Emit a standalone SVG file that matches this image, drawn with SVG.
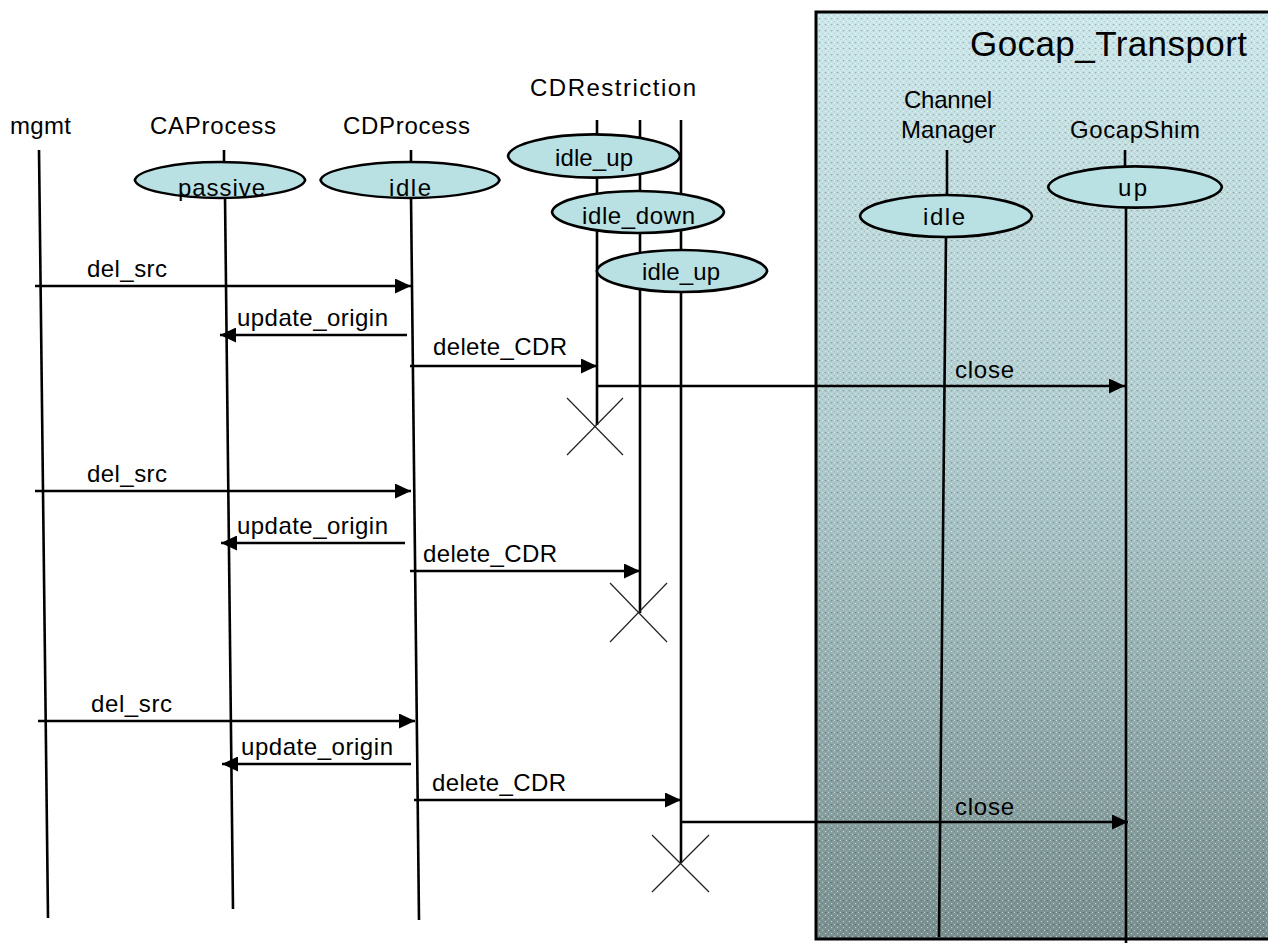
<svg xmlns="http://www.w3.org/2000/svg" xmlns:xlink="http://www.w3.org/1999/xlink" width="1268" height="943" viewBox="0 0 1268 943">
  <style>
    text { font-family: "Liberation Sans", Arial, sans-serif; font-size: 24px; fill: #000; }
    .title { font-size: 35px; }
    .life { stroke: #000; stroke-width: 2.6; fill: none; }
    .msg { stroke: #000; stroke-width: 2.6; fill: none; marker-end: url(#arrow); }
    .kill { stroke: #222; stroke-width: 1.2; }
    .state { fill: #b9e0e3; stroke: #000; stroke-width: 2.6; }
  </style>
  <defs>
    <marker id="arrow" markerUnits="userSpaceOnUse" markerWidth="17" markerHeight="15" refX="16" refY="7.5" orient="auto">
      <path d="M0,0 L16,7.5 L0,15 Z" fill="#000"/>
    </marker>
    <!-- lens-shaped state bubble centred on 0,0 -->
    <path id="lens" d="M-86,0 C-84,-11 -46,-20 0,-20 C46,-20 84,-11 86,0 C84,11 46,20 0,20 C-46,20 -84,11 -86,0 Z"/>
    <linearGradient id="boxFill" x1="0" y1="0" x2="0" y2="1">
      <stop offset="0" stop-color="#cde8ea"/>
      <stop offset="0.45" stop-color="#b1cdd0"/>
      <stop offset="1" stop-color="#7b9191"/>
    </linearGradient>
    <pattern id="dots" patternUnits="userSpaceOnUse" width="6" height="6">
      <rect x="0" y="0" width="1" height="1" fill="#fff" fill-opacity="0.55"/>
      <rect x="3" y="3" width="1" height="1" fill="#fff" fill-opacity="0.55"/>
      <rect x="2" y="0" width="3" height="1" fill="#000" fill-opacity="0.1"/>
      <rect x="3" y="-1" width="1" height="3" fill="#000" fill-opacity="0.1"/>
      <rect x="0" y="3" width="1" height="1" fill="#000" fill-opacity="0.12"/>
    </pattern>
  </defs>

  <rect width="1268" height="943" fill="#fff"/>

  <!-- transport package frame -->
  <g id="gocap-transport">
    <rect x="816" y="12" width="470" height="927" fill="url(#boxFill)"/>
    <rect x="816" y="12" width="470" height="927" fill="url(#dots)" stroke="#000" stroke-width="3"/>
    <text class="title" x="970" y="56" textLength="277">Gocap_Transport</text>
  </g>

  <!-- lifelines and their states -->
  <g id="mgmt">
    <text x="10" y="134" textLength="61">mgmt</text>
    <line class="life" x1="39" y1="150" x2="48" y2="918"/>
  </g>

  <g id="caprocess">
    <text x="150" y="134" textLength="126">CAProcess</text>
    <line class="life" x1="224" y1="150" x2="224" y2="164"/>
    <line class="life" x1="225" y1="196" x2="233" y2="909"/>
    <use href="#lens" class="state" transform="translate(220,180) scale(0.99,0.9)"/>
    <text x="178" y="196" textLength="87">passive</text>
  </g>

  <g id="cdprocess">
    <text x="343" y="134" textLength="127">CDProcess</text>
    <line class="life" x1="411" y1="150" x2="411" y2="164"/>
    <line class="life" x1="411" y1="196" x2="419" y2="920"/>
    <use href="#lens" class="state" transform="translate(410,180) scale(1.04,0.9)"/>
    <text x="389" y="196" textLength="42">idle</text>
  </g>

  <g id="cdrestriction">
    <text x="530" y="96" textLength="166">CDRestriction</text>
    <line class="life" x1="597" y1="120" x2="597" y2="425"/>
    <line class="life" x1="640" y1="120" x2="640" y2="613"/>
    <line class="life" x1="681" y1="120" x2="681" y2="863"/>
    <use href="#lens" class="state" transform="translate(594,156) scale(1,1.08)"/>
    <text x="555" y="166" textLength="78">idle_up</text>
    <use href="#lens" class="state" transform="translate(638,212) scale(1,1.05)"/>
    <text x="582" y="224" textLength="113">idle_down</text>
    <use href="#lens" class="state" transform="translate(682,271) scale(0.99,1.05)"/>
    <text x="642" y="280" textLength="78">idle_up</text>
  </g>

  <g id="channel-manager">
    <text x="904" y="108" textLength="88">Channel</text>
    <text x="901" y="138" textLength="95">Manager</text>
    <line class="life" x1="947" y1="150" x2="947" y2="197"/>
    <line class="life" x1="946" y1="235" x2="939" y2="937"/>
    <use href="#lens" class="state" transform="translate(946,216) scale(1,1.05)"/>
    <text x="923" y="225" textLength="42">idle</text>
  </g>

  <g id="gocapshim">
    <text x="1070" y="138" textLength="130">GocapShim</text>
    <line class="life" x1="1125" y1="150" x2="1125" y2="168"/>
    <line class="life" x1="1126" y1="206" x2="1126" y2="943"/>
    <use href="#lens" class="state" transform="translate(1135,187) scale(1.01,1.03)"/>
    <text x="1118" y="196" textLength="29">up</text>
  </g>

  <!-- messages -->
  <g id="connectors">
    <line class="msg" x1="35" y1="286" x2="411" y2="286"/>
    <text x="87" y="277" textLength="80">del_src</text>
    <line class="msg" x1="407" y1="335" x2="220" y2="335"/>
    <text x="237" y="326" textLength="151">update_origin</text>
    <line class="msg" x1="410" y1="366" x2="597" y2="366"/>
    <text x="433" y="355" textLength="134">delete_CDR</text>
    <line class="msg" x1="597" y1="386" x2="1125" y2="386"/>
    <text x="955" y="378" textLength="59">close</text>
    <line class="kill" x1="567" y1="398" x2="623" y2="455"/>
    <line class="kill" x1="623" y1="398" x2="567" y2="455"/>

    <line class="msg" x1="35" y1="491" x2="411" y2="491"/>
    <text x="87" y="482" textLength="80">del_src</text>
    <line class="msg" x1="405" y1="543" x2="221" y2="543"/>
    <text x="237" y="534" textLength="151">update_origin</text>
    <line class="msg" x1="410" y1="571" x2="640" y2="571"/>
    <text x="423" y="562" textLength="134">delete_CDR</text>
    <line class="kill" x1="610" y1="583" x2="667" y2="642"/>
    <line class="kill" x1="667" y1="583" x2="610" y2="642"/>

    <line class="msg" x1="38" y1="721" x2="415" y2="721"/>
    <text x="91" y="712" textLength="81">del_src</text>
    <line class="msg" x1="411" y1="764" x2="222" y2="764"/>
    <text x="241" y="755" textLength="152">update_origin</text>
    <line class="msg" x1="414" y1="800" x2="681" y2="800"/>
    <text x="432" y="791" textLength="134">delete_CDR</text>
    <line class="msg" x1="681" y1="822" x2="1128" y2="822"/>
    <text x="955" y="815" textLength="59">close</text>
    <line class="kill" x1="652" y1="835" x2="709" y2="892"/>
    <line class="kill" x1="709" y1="835" x2="652" y2="892"/>
  </g>
</svg>
